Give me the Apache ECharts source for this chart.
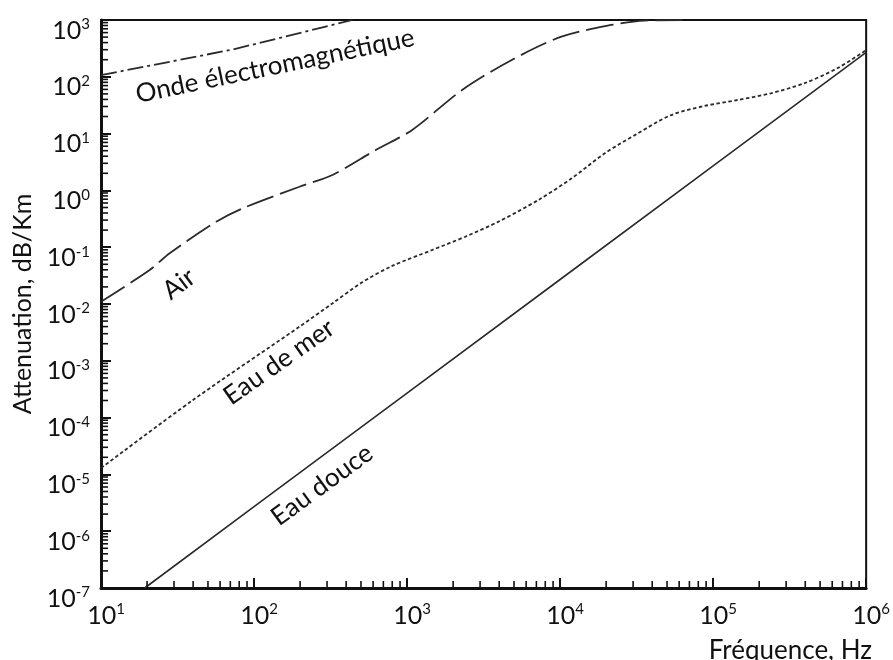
<!DOCTYPE html>
<html>
<head>
<meta charset="utf-8">
<script src="https://cdn.jsdelivr.net/npm/echarts@6/dist/echarts.min.js"></script>
<style>html,body{margin:0;padding:0;background:#fff}#c{width:893px;height:660px}</style>
</head>
<body>
<div id="c"></div>
<script>
// ---- data (frequency Hz, attenuation dB/km) ----
var ondeFreq = [10, 72.4, 440];
var ondeAtt  = [107, 302, 1000];

var airFreq = [10, 20.8, 28.1, 56.6, 84.3, 198, 325, 624, 1080, 2290, 4830, 10200, 21600, 35700, 63000];
var airAtt  = [0.011, 0.0397, 0.0782, 0.281, 0.484, 1.16, 1.87, 5.14, 11.6, 58.6, 198, 508, 817, 977, 1000];

var merFreq = [10, 39.9, 198, 325, 500, 800, 1460, 2400, 3960, 7210, 11900, 19600, 32200, 53200, 87700, 145000, 238000, 393000, 647000, 1000000];
var merAtt  = [1.29e-5, 2.04e-4, 3.98e-3, 1.02e-2, 2.34e-2, 4.68e-2, 8.93e-2, 0.153, 0.282, 0.678, 1.63, 4.50, 10.1, 21.2, 30.6, 39.1, 51.3, 76.7, 141, 295];

var douceFreq = [19.3, 100, 1000, 10000, 100000, 1000000];
var douceAtt  = [1e-7, 2.7e-6, 2.7e-4, 0.027, 2.7, 270];

// ---- axis ticks ----
var xDecades = [10, 100, 1000, 10000, 100000];
var yDecades = [1e-7, 1e-6, 1e-5, 1e-4, 1e-3, 1e-2, 1e-1, 1, 10, 100];
var minorMult = [2, 3, 4, 5, 6, 7, 8, 9];
var xMin = 10, xMax = 1e6, yMin = 1e-7, yMax = 1e3;

function pairs(xs, ys) { return xs.map(function (x, i) { return [x, ys[i]]; }); }
// [x, y, direction] : 0 = minor tick on the bottom axis, 1 = minor tick on the left axis
var minorTickData = [];
xDecades.forEach(function (d) { minorMult.forEach(function (m) { minorTickData.push([d * m, yMin, 0]); }); });
yDecades.forEach(function (d) { minorMult.forEach(function (m) { minorTickData.push([xMin, d * m, 1]); }); });

var FONT = 'Lato';
var lineColor = '#2a2a2a';

function expLabel(v) {
  var e = Math.round(Math.log10(v));
  return '{b|10}{s|' + (e < 0 ? '-' + (-e) : e) + '}';
}
var richLbl = {
  b: { fontSize: 25, fontFamily: FONT, color: '#111', lineHeight: 26, verticalAlign: 'bottom' },
  s: { fontSize: 15, fontFamily: FONT, color: '#111', lineHeight: 26, verticalAlign: 'top' }
};

function tickRenderer(params, api) {
  var p = api.coord([api.value(0), api.value(1)]);
  var dir = api.value(2);
  var x2 = dir === 0 ? p[0] : p[0] + 7;
  var y2 = dir === 0 ? p[1] - 7 : p[1];
  return { type: 'line', shape: { x1: p[0], y1: p[1], x2: x2, y2: y2 },
           style: { stroke: '#111', lineWidth: 1.6 } };
}

var chart = echarts.init(document.getElementById('c'), null, { renderer: 'canvas' });
chart.setOption({
  animation: false,
  backgroundColor: '#fff',
  grid: { left: 101, right: 23, top: 20, bottom: 72, show: true, borderColor: '#111', borderWidth: 2, backgroundColor: 'transparent' },
  xAxis: {
    type: 'log', logBase: 10, min: xMin, max: xMax, splitNumber: 5,
    axisLine: { show: true, lineStyle: { color: '#111', width: 3 } },
    axisTick: { show: true, inside: true, length: 10, lineStyle: { color: '#111', width: 2 } },
    splitLine: { show: false },
    axisLabel: { show: true, margin: 14, padding: [0, 0, 0, 10], formatter: expLabel, rich: richLbl }
  },
  yAxis: {
    type: 'log', logBase: 10, min: yMin, max: yMax, splitNumber: 10, interval: 1,
    name: 'Attenuation, dB/Km', nameLocation: 'middle', nameGap: 66,
    nameTextStyle: { fontFamily: FONT, fontSize: 25, color: '#111' },
    axisLine: { show: true, lineStyle: { color: '#111', width: 3 } },
    axisTick: { show: true, inside: true, length: 10, lineStyle: { color: '#111', width: 2 } },
    splitLine: { show: false },
    axisLabel: { show: true, margin: 11, verticalAlign: 'top', padding: [-3, 0, 0, 0], formatter: expLabel, rich: richLbl }
  },
  graphic: [
    { type: 'text', x: 872, y: 651, style: { text: 'Fréquence, Hz', font: '26px ' + FONT, fill: '#111', align: 'right', verticalAlign: 'middle' } },
    { type: 'text', x: 275, y: 66, rotation: 11.7 * Math.PI / 180,
      style: { text: 'Onde électromagnétique', font: '26px ' + FONT, fill: '#111', align: 'center', verticalAlign: 'middle' } },
    { type: 'text', x: 179, y: 284, rotation: 37 * Math.PI / 180,
      style: { text: 'Air', font: '26px ' + FONT, fill: '#111', align: 'center', verticalAlign: 'middle' } },
    { type: 'text', x: 279, y: 362, rotation: 35 * Math.PI / 180,
      style: { text: 'Eau de mer', font: '26px ' + FONT, fill: '#111', align: 'center', verticalAlign: 'middle' } },
    { type: 'text', x: 322, y: 485, rotation: 36 * Math.PI / 180,
      style: { text: 'Eau douce', font: '26px ' + FONT, fill: '#111', align: 'center', verticalAlign: 'middle' } }
  ],
  series: [
    { name: 'Onde électromagnétique', type: 'line', data: pairs(ondeFreq, ondeAtt), showSymbol: false,
      lineStyle: { color: lineColor, width: 1.8, type: [16, 4, 3, 4] } },
    { name: 'Air', type: 'line', data: pairs(airFreq, airAtt), showSymbol: false, smooth: 0.3,
      lineStyle: { color: lineColor, width: 1.8, type: [28, 7] } },
    { name: 'Eau de mer', type: 'line', data: pairs(merFreq, merAtt), showSymbol: false, smooth: 0.3,
      lineStyle: { color: lineColor, width: 1.8, type: [3.5, 2.5] } },
    { name: 'Eau douce', type: 'line', data: pairs(douceFreq, douceAtt), showSymbol: false,
      lineStyle: { color: lineColor, width: 1.6, type: 'solid' } },
    { type: 'custom', data: minorTickData, renderItem: tickRenderer, silent: true, clip: false, z: 5 }
  ]
});
</script>
</body>
</html>
